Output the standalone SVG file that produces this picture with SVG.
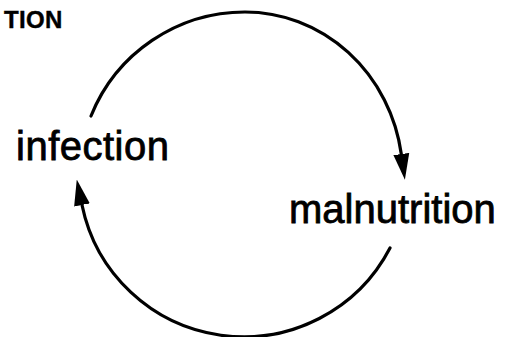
<svg xmlns="http://www.w3.org/2000/svg" width="507" height="337" viewBox="0 0 507 337">
<style>
.lbl{font-family:"Liberation Sans",Arial,sans-serif;font-size:40px;fill:#000;stroke:#000;stroke-width:0.8px}
.hdr{font-family:"Liberation Sans",Arial,sans-serif;font-size:24px;font-weight:bold;fill:#000;stroke:#000;stroke-width:0.4px;letter-spacing:0.3px}
.arc{fill:none;stroke:#000;stroke-width:3.2;stroke-linecap:round}
</style>
<defs>
<marker id="ah" viewBox="0 -9 26 18" markerWidth="26" markerHeight="18" refX="0" refY="0" orient="auto" markerUnits="userSpaceOnUse">
<path d="M0,-8 L26,0 L0,8 z" fill="#000"/>
</marker>
</defs>
<rect width="507" height="337" fill="#fff"/>
<text class="hdr" x="4" y="28">TION</text>
<g id="connectors">
<path class="arc" d="M91,116 A166,166 0 0 1 245,12 A158,166 0 0 1 401.3,154" marker-end="url(#ah)"/>
<path class="arc" d="M390,248 A165,165 0 0 1 82,205" marker-end="url(#ah)"/>
</g>
<g id="infection"><text class="lbl" x="16" y="160" style="letter-spacing:0.5px">infection</text></g>
<g id="malnutrition"><text class="lbl" x="289" y="223">malnutrition</text></g>
</svg>
